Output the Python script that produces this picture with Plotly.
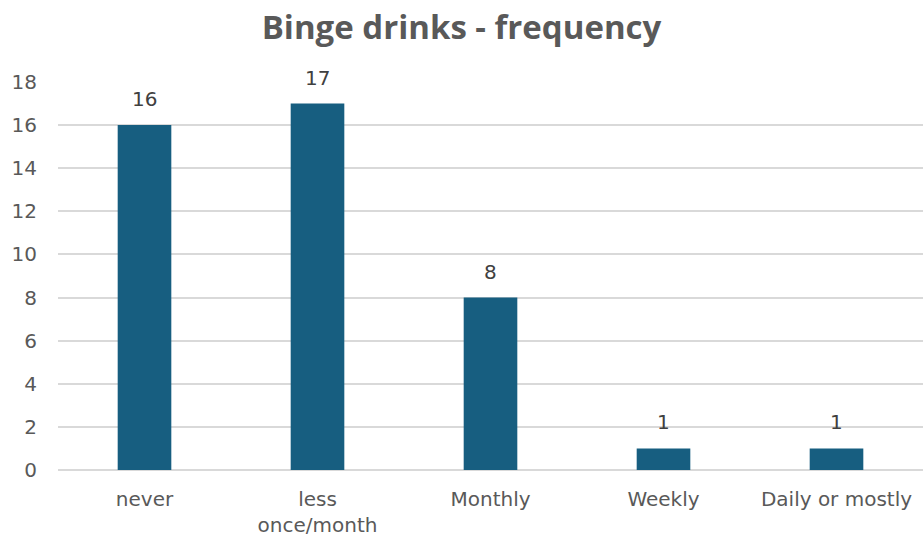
import plotly.graph_objects as go

categories = ["never", "less<br>once/month", "Monthly", "Weekly", "Daily or mostly"]
values = [16, 17, 8, 1, 1]
y_ticks = [0, 2, 4, 6, 8, 10, 12, 14, 16, 18]

FONT = "DejaVu Sans"

fig = go.Figure()
fig.add_trace(go.Bar(
    x=categories, y=values,
    marker=dict(color="#175e80", line=dict(width=0)),
    width=0.31,
    hoverinfo="skip",
))
for c, v in zip(categories, values):
    fig.add_annotation(x=c, y=v, text=str(v), showarrow=False,
                       yanchor="bottom", yshift=12,
                       font=dict(family=FONT, size=20, color="#404040"))

fig.update_layout(
    width=923, height=540,
    margin=dict(l=58, r=0, t=82, b=70),
    paper_bgcolor="white", plot_bgcolor="white",
    title=dict(text="<b>Binge drinks - frequency</b>", x=0.5, xanchor="center",
               y=0.95, yanchor="middle",
               font=dict(family="Open Sans", size=33, color="#595959")),
    font=dict(family=FONT, size=20, color="#595959"),
    showlegend=False,
)
fig.update_yaxes(range=[0, 18], tickvals=y_ticks, showgrid=True, gridcolor="#d9d9d9",
                 gridwidth=2, zeroline=True, zerolinecolor="#d9d9d9", zerolinewidth=2,
                 showline=False, ticks="", ticklabelstandoff=20,
                 tickfont=dict(family=FONT, size=20, color="#595959"))
fig.update_xaxes(showline=False, ticks="", showgrid=False, ticklabelstandoff=15,
                 tickfont=dict(family=FONT, size=20, color="#595959"))

fig.write_html("out.html")
